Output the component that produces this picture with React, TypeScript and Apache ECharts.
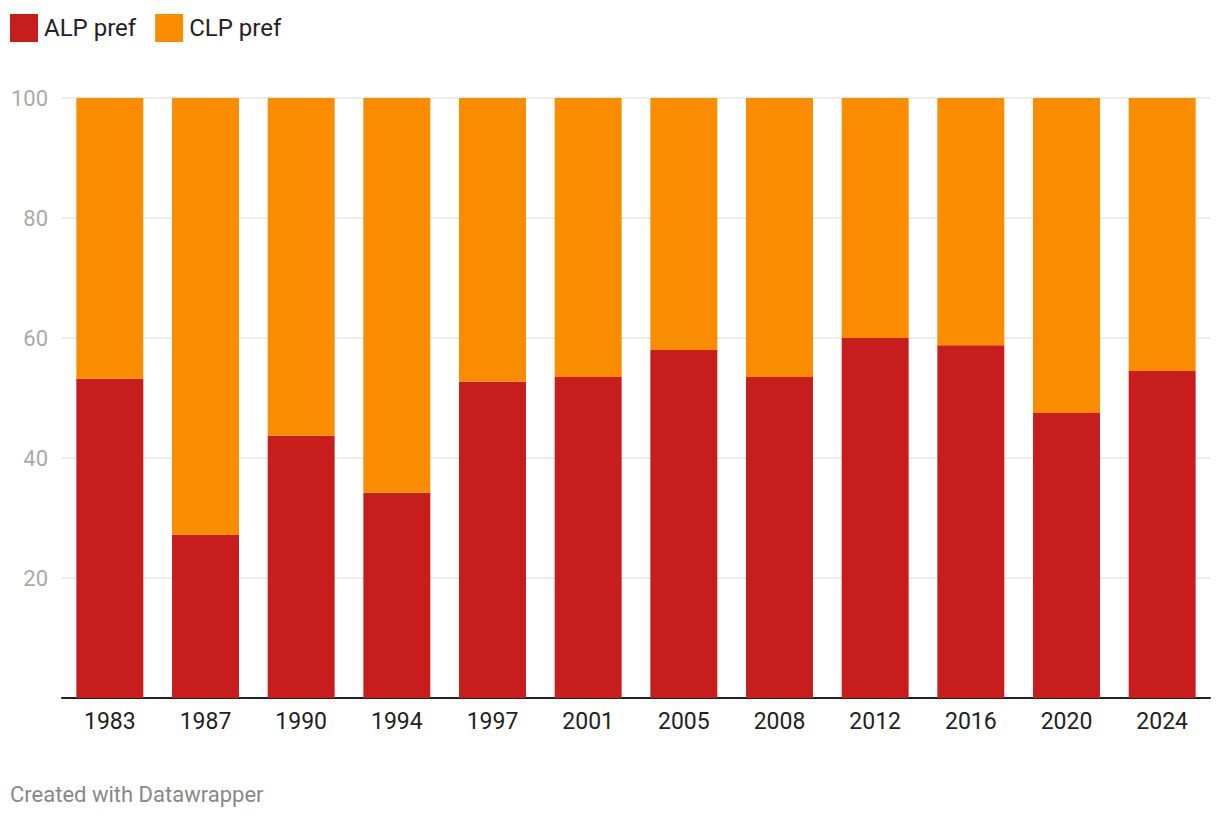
import React, { useEffect, useRef } from "react";
import * as echarts from "echarts";

const years = ["1983", "1987", "1990", "1994", "1997", "2001", "2005", "2008", "2012", "2016", "2020", "2024"];
const alpPref = [53.2, 27.2, 43.7, 34.2, 52.7, 53.5, 58.0, 53.5, 60.0, 58.8, 47.5, 54.5];
const clpPref = alpPref.map((v) => +(100 - v).toFixed(1));
const yTicks = [0, 20, 40, 60, 80, 100];

export default function App() {
  const ref = useRef<HTMLDivElement>(null);
  useEffect(() => {
    document.body.style.margin = "0";
    const chart = echarts.init(ref.current!, null, { renderer: "svg" });
    chart.setOption({
      animation: false,
      textStyle: { fontFamily: "Roboto" },
      legend: {
        left: 10,
        top: 14,
        padding: 0,
        icon: "rect",
        itemWidth: 28,
        itemHeight: 28,
        itemGap: 19,
        textStyle: { fontSize: 24, color: "#222", padding: [0, 0, 2, 1] },
        data: ["ALP pref", "CLP pref"],
      },
      grid: { left: 62, right: 10, top: 98, bottom: 122, containLabel: false },
      xAxis: {
        type: "category",
        data: years,
        axisLine: { lineStyle: { color: "#222", width: 2 } },
        axisTick: { show: false },
        axisLabel: { fontSize: 23, color: "#222", margin: 12 },
      },
      yAxis: {
        type: "value",
        min: yTicks[0],
        max: yTicks[yTicks.length - 1],
        interval: 20,
        axisLine: { show: false },
        axisTick: { show: false },
        axisLabel: { fontSize: 22, color: "#aaa", margin: 14, showMinLabel: false },
        splitLine: { lineStyle: { color: "#e6e6e6", width: 1.5 } },
      },
      series: [
        {
          name: "ALP pref",
          type: "bar",
          stack: "total",
          data: alpPref,
          barCategoryGap: "30%",
          itemStyle: { color: "#c71e1d" },
        },
        {
          name: "CLP pref",
          type: "bar",
          stack: "total",
          data: clpPref,
          barCategoryGap: "30%",
          itemStyle: { color: "#fa8c00" },
        },
      ],
      graphic: [
        {
          type: "text",
          left: 10,
          top: 783,
          style: { text: "Created with Datawrapper", fontSize: 22, fill: "#888", fontFamily: "Roboto" },
        },
      ],
    });
    return () => chart.dispose();
  }, []);
  return <div ref={ref} style={{ width: 1220, height: 820 }} />;
}
